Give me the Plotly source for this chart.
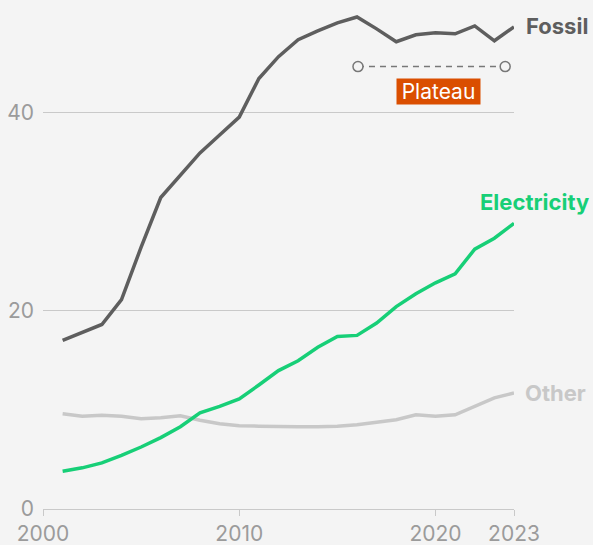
import plotly.graph_objects as go

BG = "#f4f4f4"
FOSSIL = "#5e5e5e"
ELEC = "#17cf77"
OTHER = "#c8c8c8"
AXIS_GREY = "#c9c9c9"
TICK_TEXT = "#9b9b9b"
ORANGE = "#da4e00"

years = list(range(2001, 2025))
fossil = [17.0, 17.8, 18.6, 21.1, 26.4, 31.4, 33.7, 35.9, 37.7, 39.5, 43.4, 45.6,
          47.3, 48.2, 49.0, 49.6, 48.4, 47.1, 47.8, 48.0, 47.9, 48.7, 47.2, 48.6]
electricity = [3.8, 4.15, 4.65, 5.4, 6.25, 7.2, 8.3, 9.7, 10.35, 11.1, 12.5, 13.95,
               14.95, 16.3, 17.4, 17.5, 18.75, 20.4, 21.7, 22.8, 23.7, 26.2, 27.3, 28.8]
other = [9.6, 9.35, 9.45, 9.35, 9.1, 9.2, 9.4, 8.95, 8.6, 8.4, 8.35, 8.3,
         8.3, 8.3, 8.35, 8.5, 8.75, 9.0, 9.5, 9.35, 9.5, 10.35, 11.2, 11.7]

x_tickvals = [2000, 2010, 2020, 2024]
x_ticktext = ["2000", "2010", "2020", "2023"]
y_tickvals = [0, 20, 40]

plateau_x = [2016.05, 2023.55]
plateau_y = [44.6, 44.6]

fig = go.Figure()
fig.add_trace(go.Scatter(x=years, y=other, mode="lines",
                         line=dict(color=OTHER, width=3.5), cliponaxis=False))
fig.add_trace(go.Scatter(x=years, y=electricity, mode="lines",
                         line=dict(color=ELEC, width=3.5), cliponaxis=False))
fig.add_trace(go.Scatter(x=years, y=fossil, mode="lines",
                         line=dict(color=FOSSIL, width=3.5), cliponaxis=False))
fig.add_trace(go.Scatter(x=plateau_x, y=plateau_y, mode="lines+markers",
                         line=dict(color="#777777", width=1.5, dash="6px,5px"),
                         marker=dict(size=10, color=BG, line=dict(color="#777777", width=1.5)),
                         cliponaxis=False))

label_font = dict(family="Inter", size=22, weight=700)
fig.add_annotation(x=years[-1], y=fossil[-1], text="Fossil", showarrow=False,
                   xanchor="left", xshift=10, yshift=1,
                   font=dict(label_font, color=FOSSIL))
fig.add_annotation(x=years[-1], y=electricity[-1], text="Electricity", showarrow=False,
                   xanchor="right", xshift=77, yanchor="bottom", yshift=6,
                   font=dict(label_font, color=ELEC))
fig.add_annotation(x=years[-1], y=other[-1], text="Other", showarrow=False,
                   xanchor="left", xshift=9, yshift=0,
                   font=dict(label_font, color=OTHER))
fig.add_annotation(x=sum(plateau_x) / 2, y=plateau_y[0], text="Plateau", showarrow=False,
                   xshift=7, yshift=-25, bgcolor=ORANGE, borderpad=0,
                   width=83, height=25,
                   font=dict(family="Inter", size=21, color="white"))

fig.update_layout(
    width=593, height=545,
    margin=dict(l=43, r=79, t=13, b=36, autoexpand=False),
    paper_bgcolor=BG, plot_bgcolor=BG,
    showlegend=False, hovermode=False,
    font=dict(family="Inter", size=21, color=TICK_TEXT),
    xaxis=dict(range=[2000, 2024], tickvals=x_tickvals, ticktext=x_ticktext,
               showgrid=False, zeroline=False, showline=True, linecolor=AXIS_GREY,
               linewidth=1, ticks="outside", ticklen=6, tickcolor=AXIS_GREY,
               automargin=False),
    yaxis=dict(range=[0, 50], tickvals=y_tickvals, showgrid=True, gridcolor=AXIS_GREY,
               gridwidth=1, zeroline=False, showline=False, ticks="",
               ticklabelstandoff=8, automargin=False),
)

fig.write_html("out.html", config={"displayModeBar": False},
               post_script="document.body.style.margin = '0';")
